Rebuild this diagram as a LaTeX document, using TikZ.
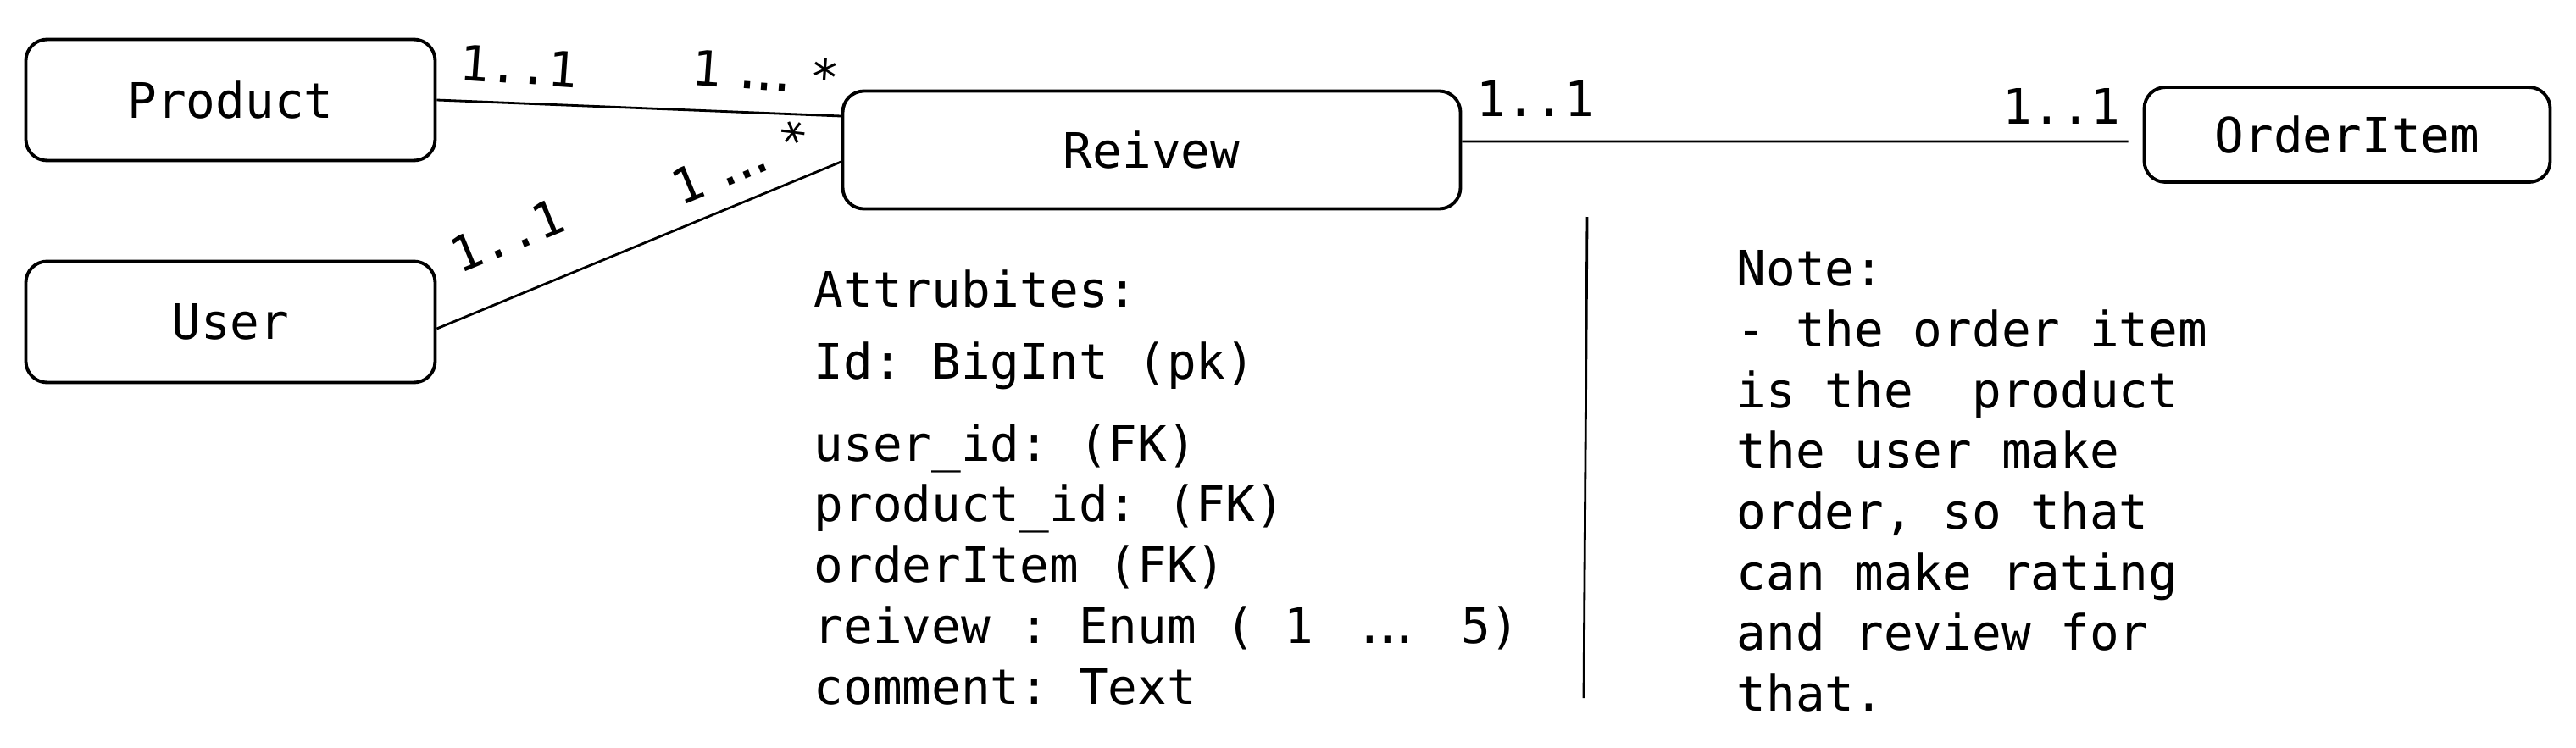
\documentclass[tikz,border=0pt]{standalone}
\usepackage{fontspec}
\setmainfont{DejaVu Sans Mono}
\usetikzlibrary{positioning,calc}
\frenchspacing
% three spread dots filling one monospace cell
\newcommand{\wdots}{\makebox[0.602em]{\makebox[0pt]{.\kern-.25em.\kern-.25em.}}}

\begin{document}
\begin{tikzpicture}[
  entity/.style={draw, rounded corners=0.25cm, line width=1.1pt,
    minimum width=4.83cm, minimum height=1.43cm,
    font=\fontsize{16.4}{20.4}\selectfont},
  card/.style={inner sep=1pt, font=\fontsize{16.4}{20.4}\selectfont},
  link/.style={line width=0.8pt},
  notes/.style={align=left, anchor=north west, inner sep=0pt,
    font=\fontsize{16.4}{20.4}\selectfont}
]
\useasboundingbox (0,0) rectangle (30.4,8.82);

\node[entity] (prod) at (2.72,7.64) {Product};
\node[entity] (usr) at (2.72,5.02) {User};
\node[entity, minimum width=7.29cm, minimum height=1.39cm] (rev) at (13.59,7.05) {Reivew};
\node[entity, minimum width=4.79cm, minimum height=1.12cm] (item) at (27.70,7.23) {OrderItem};

\draw[link] (prod.east)
  -- node[card, pos=0.2, above=1.8mm, rotate=-4] {1..1}
     node[card, pos=0.81, above=2.2mm, rotate=-4] {1\ \wdots\ *}
  ([yshift=4mm]rev.west);
\draw[link] ([yshift=-0.8mm]usr.east)
  -- node[card, sloped, pos=0.23, above=4.4mm] {1..1}
     node[card, sloped, pos=0.79, above=1.9mm] {1\ \wdots\ *}
  ([yshift=-1.4mm]rev.west);
\draw[link] ([yshift=1mm]rev.east)
  -- node[card, pos=0.11, above=2.5mm] {1..1}
     node[card, pos=0.9, above=1.6mm] {1..1}
  ([xshift=-1.7mm, yshift=-0.8mm]item.west);

% separator between attributes and note
\coordinate (septop) at (18.73,6.26);
\coordinate (sepbot) at (18.69,0.58);
\draw[link] (septop) -- (sepbot);

\node[notes] (attrs) at (9.60,5.64) {Attrubites:\\[3.8pt]
  Id: BigInt (pk)\\[7.1pt]
  user\_id: (FK)\\
  product\_id: (FK)\\
  orderItem (FK)\\
  reivew : Enum ( 1\ \ \wdots\ \ 5)\\
  comment: Text};

\node[notes] (note) at (20.49,5.87) {Note:\\
  - the order item\\
  is the\ \ product\\
  the user make\\
  order, so that\\
  can make rating\\
  and review for\\
  that.};
\end{tikzpicture}
\end{document}
